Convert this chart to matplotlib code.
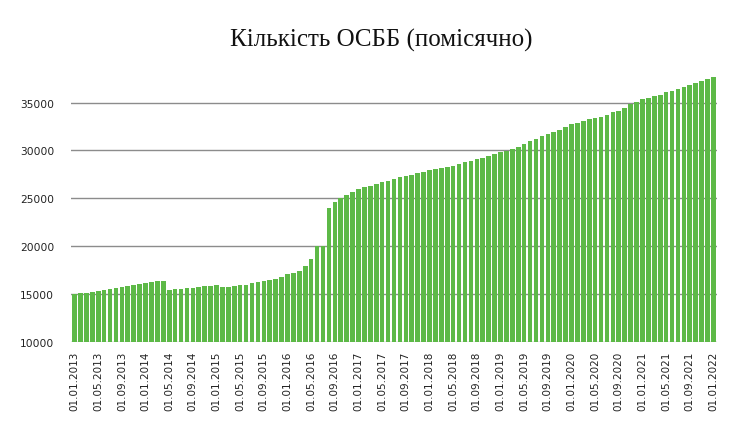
import matplotlib
matplotlib.use("Agg")
import matplotlib.pyplot as plt
import numpy as np

# monthly counts, 01.01.2013 .. 01.01.2022
osbb_counts = [
    15000, 15140, 15140, 15240, 15350, 15450, 15560, 15660, 15760, 15870,
    15940, 16080, 16180, 16280, 16390, 16390, 15450, 15560, 15560, 15660,
    15660, 15760, 15870, 15870, 15970, 15760, 15760, 15870, 15970, 15970,
    16180, 16280, 16390, 16490, 16600, 16800, 17110, 17220, 17430, 17950,
    18680, 20000, 20000, 23990, 24620, 25000, 25350, 25660, 25970, 26180,
    26280, 26490, 26700, 26800, 27010, 27220, 27320, 27430, 27640, 27740,
    27950, 28060, 28160, 28260, 28370, 28580, 28780, 28890, 29100, 29200,
    29410, 29620, 29830, 29950, 30180, 30400, 30660, 30970, 31180, 31490,
    31700, 31910, 32120, 32430, 32740, 32850, 33050, 33260, 33370, 33470,
    33680, 33990, 34100, 34410, 34820, 35030, 35340, 35450, 35660, 35760,
    36070, 36180, 36380, 36590, 36800, 37010, 37220, 37430, 37630,
]

# month labels dd.mm.yyyy
month_labels = []
for year in range(2013, 2023):
    for month in range(1, 13):
        month_labels.append(f"01.{month:02d}.{year}")
month_labels = month_labels[:len(osbb_counts)]

y_ticks = [10000, 15000, 20000, 25000, 30000, 35000]

fig = plt.figure(figsize=(7.43, 4.39), dpi=100)
ax = fig.add_axes([71 / 743, 96 / 439, 646 / 743, 0.611])

x = np.arange(len(osbb_counts))
ax.bar(x, osbb_counts, width=0.78, color="#5DB947", zorder=3)

ax.set_ylim(10000, 38000)
ax.set_xlim(-0.6, len(osbb_counts) - 0.4)
ax.set_yticks(y_ticks)
ax.set_yticklabels([str(v) for v in y_ticks], fontsize=7.7, color="#222222")
ax.yaxis.grid(True, color="#8c8c8c", linewidth=1.0, zorder=0)

shown = x[::4]
ax.set_xticks(shown)
ax.set_xticklabels([month_labels[i] for i in shown], rotation=90,
                   fontsize=7.5, color="#222222")
ax.tick_params(axis="both", length=0, pad=6)
ax.tick_params(axis="y", pad=12)

for side in ["top", "right", "left", "bottom"]:
    ax.spines[side].set_visible(False)

fig.text(0.513, 0.908, "Кількість ОСББ (помісячно)", ha="center", va="center",
         fontsize=18, family="Liberation Serif", color="#111111")

fig.savefig("out.png", dpi=100)
